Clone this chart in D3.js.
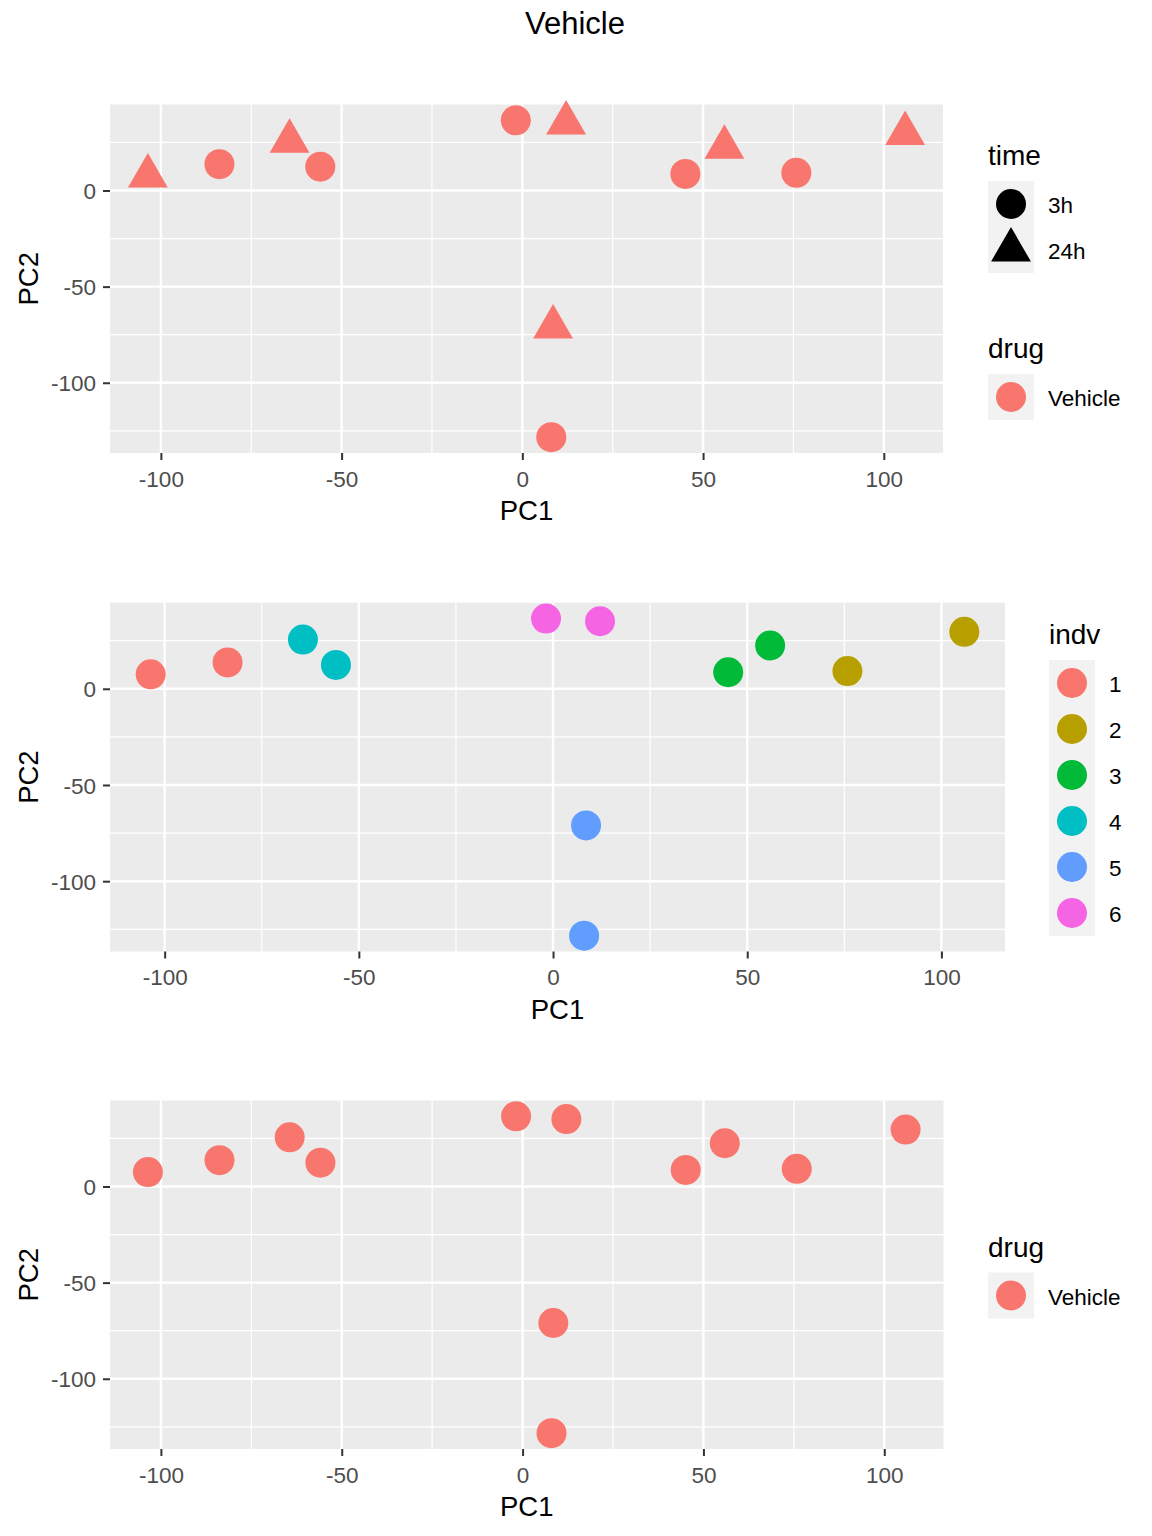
<!DOCTYPE html>
<html>
<head>
<meta charset="utf-8">
<script src="https://cdn.jsdelivr.net/npm/d3@7"></script>
<style>
  html, body { margin: 0; padding: 0; background: #ffffff; }
  svg { display: block; font-family: "Liberation Sans", Arial, sans-serif; }
</style>
</head>
<body>
<script>
// ---- data ----
const pc1 = [-103.6, -83.8, -64.4, -55.9, -1.8, 12.1, 45.1, 55.9, 75.8, 105.9, 8.5, 8.0];
const pc2 = [7.5, 13.7, 25.6, 12.4, 36.5, 35.1, 8.6, 22.5, 9.2, 29.6, -71.0, -128.3];
const timeGroup = ["24h", "3h", "24h", "3h", "3h", "24h", "3h", "24h", "3h", "24h", "24h", "3h"];
const indv = ["1", "1", "4", "4", "6", "6", "3", "3", "2", "2", "5", "5"];
const drug = ["Vehicle", "Vehicle", "Vehicle", "Vehicle", "Vehicle", "Vehicle",
              "Vehicle", "Vehicle", "Vehicle", "Vehicle", "Vehicle", "Vehicle"];
const timeLevels = ["3h", "24h"];
const indvLevels = ["1", "2", "3", "4", "5", "6"];
const indvColors = ["#F8766D", "#B79F00", "#00BA38", "#00BFC4", "#619CFF", "#F564E3"];
const drugLevels = ["Vehicle"];
const drugColors = ["#F8766D"];
const xTicks = [-100, -50, 0, 50, 100];
const yTicks = [0, -50, -100];
const xMinor = [-75, -25, 25, 75];
const yMinor = [25, -25, -75, -125];
const chartTitle = "Vehicle";

const rows = pc1.map((d, i) => ({ pc1: d, pc2: pc2[i], time: timeGroup[i], indv: indv[i], drug: drug[i] }));

// ---- layout ----
const W = 1152, H = 1536;
const svg = d3.select("body").append("svg").attr("width", W).attr("height", H);

svg.append("text").attr("x", 575).attr("y", 34).attr("text-anchor", "middle")
  .attr("font-size", 31).attr("fill", "#000").text(chartTitle);

const xExt = d3.extent(pc1), yExt = d3.extent(pc2);
const xPad = (xExt[1] - xExt[0]) * 0.05, yPad = (yExt[1] - yExt[0]) * 0.05;
const xDom = [xExt[0] - xPad, xExt[1] + xPad];
const yDom = [yExt[0] - yPad, yExt[1] + yPad];

const circleSym = d3.symbol().type(d3.symbolCircle).size(Math.PI * 15 * 15);
const triSym = d3.symbol().type(d3.symbolTriangle).size(11.5 * 11.5 * 3 * Math.sqrt(3));
const shapeScale = d3.scaleOrdinal().domain(timeLevels).range([circleSym(), triSym()]);
const indvColor = d3.scaleOrdinal().domain(indvLevels).range(indvColors);
const drugColor = d3.scaleOrdinal().domain(drugLevels).range(drugColors);

function panel(p) {
  const g = svg.append("g");
  const x = d3.scaleLinear().domain(xDom).range([p.left, p.right]);
  const y = d3.scaleLinear().domain(yDom).range([p.bottom, p.top]);

  g.append("rect").attr("x", p.left).attr("y", p.top)
    .attr("width", p.right - p.left).attr("height", p.bottom - p.top).attr("fill", "#EBEBEB");

  // minor grid
  g.selectAll(".xminor").data(xMinor.filter(v => v > xDom[0] && v < xDom[1])).enter().append("line")
    .attr("x1", d => x(d)).attr("x2", d => x(d)).attr("y1", p.top).attr("y2", p.bottom)
    .attr("stroke", "#fff").attr("stroke-width", 1.2);
  g.selectAll(".yminor").data(yMinor.filter(v => v > yDom[0] && v < yDom[1])).enter().append("line")
    .attr("y1", d => y(d)).attr("y2", d => y(d)).attr("x1", p.left).attr("x2", p.right)
    .attr("stroke", "#fff").attr("stroke-width", 1.2);
  // major grid
  g.selectAll(".xmajor").data(xTicks).enter().append("line")
    .attr("x1", d => x(d)).attr("x2", d => x(d)).attr("y1", p.top).attr("y2", p.bottom)
    .attr("stroke", "#fff").attr("stroke-width", 2.4);
  g.selectAll(".ymajor").data(yTicks).enter().append("line")
    .attr("y1", d => y(d)).attr("y2", d => y(d)).attr("x1", p.left).attr("x2", p.right)
    .attr("stroke", "#fff").attr("stroke-width", 2.4);

  // axes
  const xAxis = d3.axisBottom(x).tickValues(xTicks).tickSize(7).tickPadding(6).tickFormat(d3.format("d"));
  const gx = g.append("g").attr("transform", `translate(0,${p.bottom})`).call(xAxis);
  gx.select(".domain").remove();
  gx.selectAll(".tick line").attr("stroke", "#333333").attr("stroke-width", 2);
  gx.selectAll(".tick text").attr("fill", "#4D4D4D").attr("font-size", 22.5)
    .attr("dy", null).attr("y", 33.5).text(d => d < 0 ? "-" + Math.abs(d) : d);

  const yAxis = d3.axisLeft(y).tickValues(yTicks).tickSize(7).tickPadding(6);
  const gy = g.append("g").attr("transform", `translate(${p.left},0)`).call(yAxis);
  gy.select(".domain").remove();
  gy.selectAll(".tick line").attr("stroke", "#333333").attr("stroke-width", 2);
  gy.selectAll(".tick text").attr("fill", "#4D4D4D").attr("font-size", 22.5)
    .attr("x", -14).attr("dy", "0.36em").text(d => d < 0 ? "-" + Math.abs(d) : d);

  g.append("text").attr("x", (p.left + p.right) / 2).attr("y", p.bottom + 67)
    .attr("text-anchor", "middle").attr("font-size", 27.5).attr("fill", "#000").text("PC1");
  g.append("text").attr("transform", `translate(37.5,${(p.top + p.bottom) / 2}) rotate(-90)`)
    .attr("text-anchor", "middle").attr("font-size", 27.5).attr("fill", "#000").text("PC2");

  // points
  g.selectAll(".pt").data(rows).enter().append("path")
    .attr("transform", d => `translate(${x(d.pc1)},${y(d.pc2)})`)
    .attr("d", d => p.shape ? shapeScale(d.time) : circleSym())
    .attr("fill", d => p.colorBy === "indv" ? indvColor(d.indv) : drugColor(d.drug));
  return g;
}

function legend(lx, titleY, title, levels, keyFn) {
  const g = svg.append("g");
  g.append("text").attr("x", lx).attr("y", titleY).attr("font-size", 28).attr("fill", "#000").text(title);
  const top = titleY + 16;
  g.append("rect").attr("x", lx).attr("y", top).attr("width", 46).attr("height", 46 * levels.length)
    .attr("fill", "#F2F2F2");
  levels.forEach((lv, i) => {
    const cy = top + 23 + 46 * i;
    g.append("path").attr("transform", `translate(${lx + 23},${cy})`)
      .attr("d", keyFn(lv).d).attr("fill", keyFn(lv).fill);
    g.append("text").attr("x", lx + 60).attr("y", cy + 9).attr("font-size", 22.5)
      .attr("fill", "#000").text(lv);
  });
}

// Panel 1: colour by drug, shape by time
panel({ left: 110, right: 943, top: 104.5, bottom: 453, shape: true, colorBy: "drug" });
legend(988, 165, "time", timeLevels, lv => ({ d: shapeScale(lv), fill: "#000" }));
legend(988, 358, "drug", drugLevels, lv => ({ d: circleSym(), fill: drugColor(lv) }));

// Panel 2: colour by individual
panel({ left: 110, right: 1005, top: 602.7, bottom: 951.5, shape: false, colorBy: "indv" });
legend(1049, 644, "indv", indvLevels, lv => ({ d: circleSym(), fill: indvColor(lv) }));

// Panel 3: colour by drug
panel({ left: 110, right: 943.5, top: 1100.5, bottom: 1449, shape: false, colorBy: "drug" });
legend(988, 1256.5, "drug", drugLevels, lv => ({ d: circleSym(), fill: drugColor(lv) }));
</script>
</body>
</html>
